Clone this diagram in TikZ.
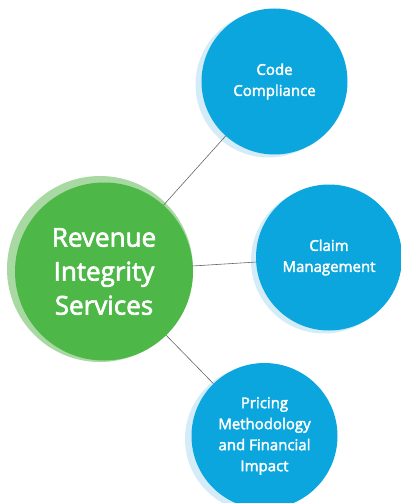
\documentclass[tikz,border=0pt]{standalone}
\usepackage{fontspec}
\setmainfont{Open Sans}
\newfontfamily\bubblefont{Open Sans}[UprightFeatures={FakeBold=2.4}]
\usetikzlibrary{calc}

\definecolor{hubgreen}{HTML}{4DB848}
\definecolor{hubshade}{HTML}{A8D9A2}
\definecolor{leafblue}{HTML}{0AA6DD}
\definecolor{leafshade}{HTML}{D3ECF8}

\tikzset{
	hub/.style={circle,fill=hubgreen,minimum size=178pt,inner sep=0pt,text=white,
		align=center,font=\bubblefont\fontsize{26}{34}\selectfont},
	leaf/.style={circle,fill=leafblue,minimum size=146pt,inner sep=0pt,text=white,
		align=center,font=\bubblefont\fontsize{15}{21}\selectfont},
	link/.style={gray!80!black,line width=0.6pt}
}

\begin{document}
\begin{tikzpicture}[x=1pt,y=-1pt]
			\useasboundingbox (0,0) rectangle (401,503);
			% shadows
			\fill[hubshade] (100,269) circle[radius=93pt];
			\fill[leafshade] (268.5,84.5) circle[radius=73pt];
			\fill[leafshade] (324,260.5) circle[radius=73pt];
			\fill[leafshade] (258,439) circle[radius=73pt];
			% bubbles
			\node[hub] (rev) at (104,271.5) {Revenue\\Integrity\\Services};
			\node[leaf] (code) at (274.5,81.5) {Code\\Compliance};
			\node[leaf] (claim) at (329,257.5) {Claim\\Management};
			\node[leaf] (price) at (264.5,436) {Pricing\\Methodology\\and Financial\\Impact};
			% links
			\draw[link] (rev) -- (code);
			\draw[link] (rev) -- (claim);
			\draw[link] (rev) -- (price);
		\end{tikzpicture}
\end{document}
